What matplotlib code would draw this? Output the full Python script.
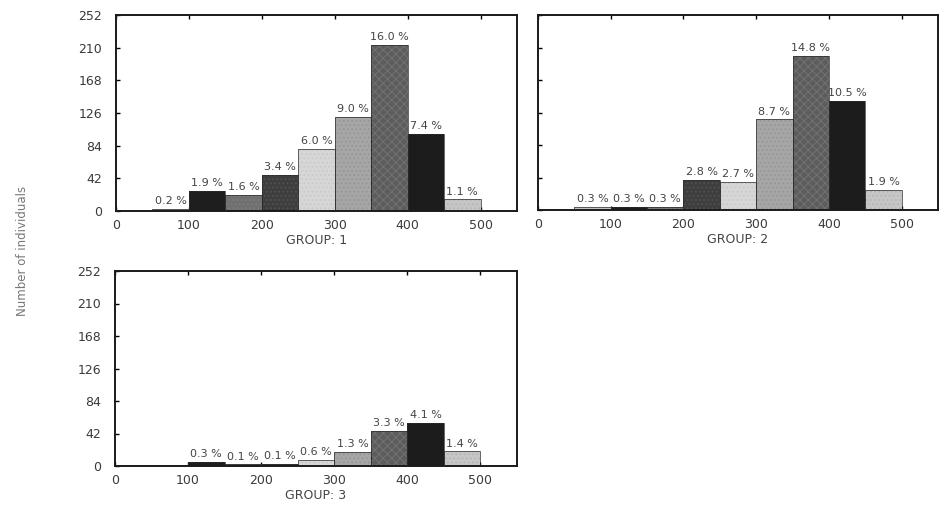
import matplotlib
matplotlib.use('Agg')
import matplotlib.pyplot as plt

plt.rcParams['font.family'] = ['DejaVu Sans']
plt.rcParams['hatch.linewidth'] = 0.7

# bins of 50, left edges
bin_left = [50, 100, 150, 200, 250, 300, 350, 400, 450]

# number of individuals per bin
group1 = [3, 26, 21, 46, 80, 121, 214, 99, 15]
group2 = [4, 4, 4, 39, 36, 117, 199, 141, 26]
group3 = [0, 5, 2, 3, 8, 18, 45, 56, 19]

# percent labels above bars
pct1 = ['0.2 %', '1.9 %', '1.6 %', '3.4 %', '6.0 %', '9.0 %', '16.0 %', '7.4 %', '1.1 %']
pct2 = ['0.3 %', '0.3 %', '0.3 %', '2.8 %', '2.7 %', '8.7 %', '14.8 %', '10.5 %', '1.9 %']
pct3 = ['', '0.3 %', '0.1 %', '0.1 %', '0.6 %', '1.3 %', '3.3 %', '4.1 %', '1.4 %']

y_ticks = [0, 42, 84, 126, 168, 210, 252]
x_ticks = [0, 100, 200, 300, 400, 500]

# grey shades / halftone look for each bin
faces = ['#c2c2c2', '#1e1e1e', '#707070', '#3e3e3e', '#d6d6d6',
         '#a6a6a6', '#5c5c5c', '#1c1c1c', '#c6c6c6']
hatch_col = ['#d0d0d0', '#2a2a2a', '#7e7e7e', '#535353', '#c8c8c8',
             '#959595', '#727272', '#262626', '#b4b4b4']
hatches = ['', '', '....', '....', '....', '....', 'xxxx', '', '....']

fig = plt.figure(figsize=(9.51, 5.12), dpi=100)
W, H = 951, 512


def make_ax(l, r, t, b):
    return fig.add_axes([l / W, 1 - b / H, (r - l) / W, (b - t) / H])


panels = [
    (make_ax(116, 517, 15, 211), group1, pct1, 'GROUP: 1', True),
    (make_ax(538, 938, 15, 210), group2, pct2, 'GROUP: 2', False),
    (make_ax(115, 517, 271, 466), group3, pct3, 'GROUP: 3', True),
]

for ax, vals, pcts, title, ylabels in panels:
    for i in range(len(bin_left)):
        if vals[i] <= 0:
            continue
        ax.bar(bin_left[i], vals[i], width=50, align='edge', color=faces[i],
               edgecolor=hatch_col[i], hatch=hatches[i], linewidth=0, zorder=2)
        ax.bar(bin_left[i], vals[i], width=50, align='edge', fill=False,
               edgecolor='#2a2a2a', linewidth=0.5, zorder=3)
        ax.annotate(pcts[i], (bin_left[i] + 25, vals[i]), xytext=(0, 2),
                    textcoords='offset points', ha='center', va='bottom',
                    fontsize=8, color='#444444')
    ax.set_xlim(0, 550)
    ax.set_ylim(0, 252)
    ax.set_yticks(y_ticks)
    ax.set_xticks(x_ticks)
    ax.tick_params(axis='both', direction='in', length=3, width=1,
                   labelsize=9, labelcolor='#3a3a3a', top=True)
    ax.tick_params(axis='y', pad=10, labelleft=ylabels)
    ax.tick_params(axis='x', pad=6)
    for s in ax.spines.values():
        s.set_linewidth(1.4)
        s.set_color('#1a1a1a')
    ax.set_xlabel(title, fontsize=9, color='#444444', labelpad=1)

fig.text(0.024, 0.51, 'Number of individuals', rotation=90, ha='center',
         va='center', fontsize=8.5, color='#777777')

fig.savefig('out.png', dpi=100)
